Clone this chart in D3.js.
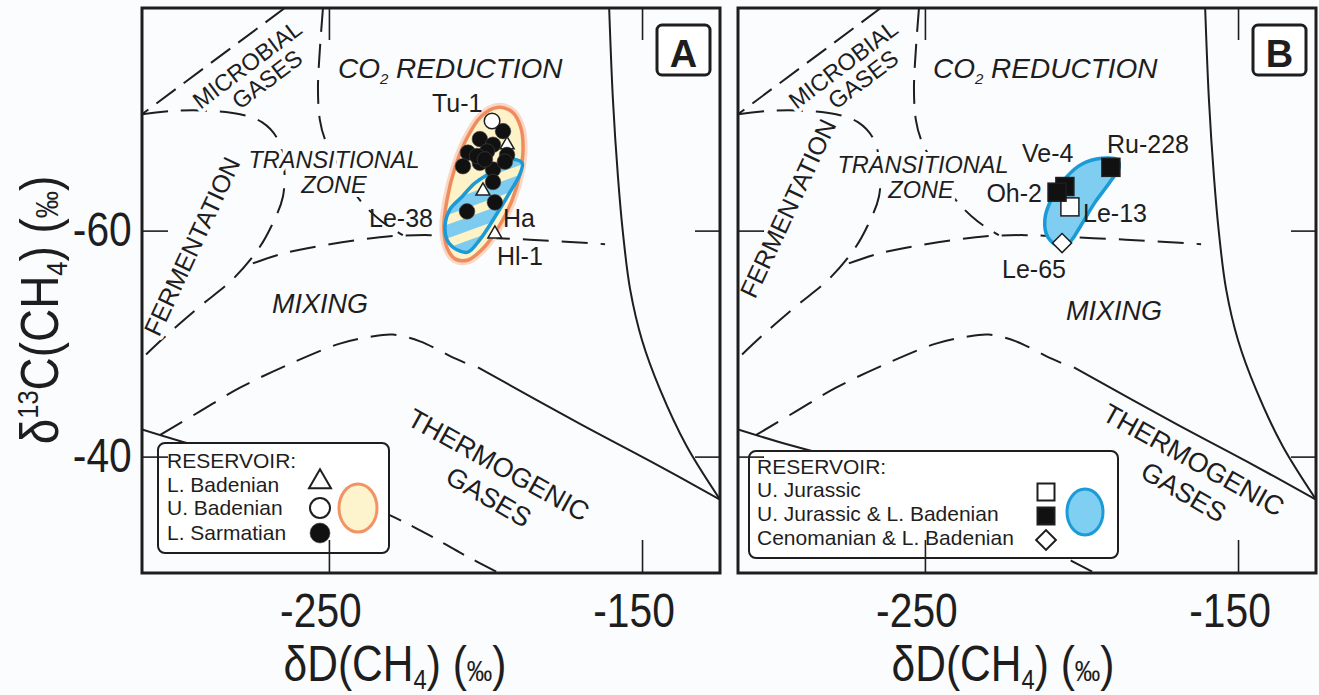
<!DOCTYPE html>
<meta charset="utf-8">
<script src="https://d3js.org/d3.v7.min.js"></script>
<style>
  body { margin: 0; background: #fbfcfe; }
  svg text { font-family: "Liberation Sans", Arial, Helvetica, sans-serif; fill: #1e1e1e; }
</style>
<body>
<div id="viz"></div>
<script>
// ---- axis ticks ----
const xTicks = [-250, -150];
const yTicks = [-60, -40];

// ---- panel A samples [dD, d13C] ----
const lBadenian = [[-193.1, -67.6], [-200.8, -63.5], [-197.0, -59.7]];
const uBadenian = [[-197.9, -69.7]];
const lSarmatian = [
  [-194.4, -68.8], [-201.8, -68.1], [-197.6, -67.6], [-205.6, -66.9], [-199.5, -67.0],
  [-193.1, -66.7], [-207.2, -65.7], [-201.8, -66.0], [-197.6, -65.4], [-193.8, -66.1],
  [-202.7, -66.6], [-200.2, -66.3], [-197.6, -64.3], [-197.0, -62.5], [-205.9, -61.7]
];

// ---- panel B samples ----
const uJurassic = [[-203.7, -62.1]];
const uJurassicLBad = [[-190.6, -65.6], [-205.3, -63.9], [-207.8, -63.4]];
const cenomLBad = [[-206.2, -58.9]];

// ---- sample envelopes ----
const envOrangeA = [
  [-196.3, -70.9], [-191.5, -70.5], [-188.7, -69.1], [-188.0, -67.2], [-189.0, -65.0],
  [-191.5, -62.7], [-195.4, -60.5], [-200.2, -58.6], [-205.6, -57.4], [-209.7, -57.5],
  [-212.3, -58.5], [-213.3, -60.3], [-212.3, -62.7], [-209.7, -65.6], [-205.9, -68.2], [-201.4, -70.1]
];
const envBlueA = [
  [-188.3, -66.0], [-192.2, -66.3], [-198.6, -65.1], [-203.4, -64.2], [-207.5, -63.0],
  [-211.3, -61.9], [-212.9, -60.5], [-212.3, -59.2], [-209.1, -58.3], [-205.6, -58.1],
  [-201.8, -59.2], [-197.0, -61.2], [-192.2, -63.4], [-189.0, -65.0]
];
const envBlueB = [
  [-188.7, -66.3], [-193.5, -66.4], [-199.8, -65.9], [-204.6, -64.8], [-209.4, -62.9],
  [-211.7, -61.0], [-210.7, -59.4], [-206.9, -58.6], [-203.7, -59.0], [-200.5, -60.3],
  [-195.7, -62.5], [-190.9, -64.3], [-188.0, -65.6]
];

// ---- genetic field boundaries ----
const bMicrobial = [[-264.1, -79.7], [-309.7, -70.3]];
const bFermentation = [
  [-309.7, -70.3], [-299.2, -70.6], [-288.0, -70.6], [-278.4, -70.3], [-271.4, -69.6],
  [-266.6, -68.2], [-264.4, -65.9], [-264.7, -63.0], [-268.2, -60.5], [-272.7, -58.3],
  [-280.7, -55.7], [-291.2, -53.3], [-300.8, -51.0], [-309.7, -48.7]
];
const bCO2Left = [
  [-251.9, -79.7], [-252.9, -76.0], [-253.5, -72.5], [-252.9, -69.8], [-251.3, -68.1],
  [-245.8, -65.2], [-240.1, -62.7], [-233.1, -60.8], [-226.4, -59.6]
];
const bCO2Bottom = [
  [-274.3, -57.1], [-265.7, -57.9], [-259.3, -58.3], [-249.7, -58.8], [-240.1, -59.2],
  [-230.5, -59.5], [-217.7, -59.6], [-201.8, -59.4], [-185.8, -59.2], [-173.0, -59.0], [-161.8, -58.8]
];
const bMixing = [
  [-304.0, -41.9], [-291.2, -44.0], [-278.4, -46.1], [-262.5, -48.2], [-246.5, -50.0],
  [-236.9, -50.6], [-229.6, -50.8], [-220.9, -50.2], [-211.3, -48.9], [-206.5, -48.3]
];
const bThermoTop = [[-202.4, -47.9], [-169.8, -42.9], [-147.4, -39.6], [-125.1, -36.2]];
const bThermoLowSolid = [[-309.7, -42.4], [-296.6, -41.3], [-265.7, -39.0]];
const bThermoLowDash = [[-265.7, -39.0], [-228.9, -34.6], [-217.7, -33.0], [-208.1, -31.5], [-195.8, -29.7]];
const bRight = [
  [-160.5, -79.7], [-159.3, -71.6], [-157.7, -64.8], [-156.1, -59.8], [-153.8, -54.8],
  [-150.0, -50.3], [-144.2, -45.9], [-135.9, -41.0], [-125.1, -36.2]
];

// ---- sample names ----
const labelsA = ["Tu-1", "Le-38", "Ha", "Hl-1"];
const labelsB = ["Ru-228", "Ve-4", "Oh-2", "Le-13", "Le-65"];

// ---------------------------------------------------------------
const W = 578, H = 565;
const x = d3.scaleLinear().domain([-309.7, -125.1]).range([0, W]);
const y = d3.scaleLinear().domain([-79.7, -29.7]).range([0, H]);
const ink = "#1e1e1e";
const bg = "#fbfcfe";

const svg = d3.select("#viz").append("svg").attr("width", 1319).attr("height", 695);
svg.append("rect").attr("width", 1319).attr("height", 695).attr("fill", bg);

const defs = svg.append("defs");
const pat = defs.append("pattern").attr("id", "stripes")
  .attr("patternUnits", "userSpaceOnUse").attr("width", 22).attr("height", 22)
  .attr("patternTransform", "rotate(-20)");
pat.append("rect").attr("width", 22).attr("height", 22).attr("fill", "#fdf3c6");
pat.append("rect").attr("width", 22).attr("height", 13).attr("fill", "#7dcbee");
defs.append("clipPath").attr("id", "frame").append("rect").attr("width", W).attr("height", H);

const line = d3.line().x(d => x(d[0])).y(d => y(d[1])).curve(d3.curveCatmullRom.alpha(0.5));
const closed = d3.line().x(d => x(d[0])).y(d => y(d[1])).curve(d3.curveCatmullRomClosed.alpha(0.5));

function symbol(g, kind, cx, cy, big) {
  const sw = big ? 2 : 1.5;
  if (kind === "tri") {
    const s = big ? 22 : 14, h = s / Math.sqrt(3);
    g.append("path").attr("d", `M${cx},${cy - h}L${cx + s / 2},${cy + h / 2}L${cx - s / 2},${cy + h / 2}Z`)
      .attr("fill", "#fff").attr("stroke", ink).attr("stroke-width", sw);
  } else if (kind === "circOpen" || kind === "circFill") {
    g.append("circle").attr("cx", cx).attr("cy", cy).attr("r", big ? 10 : 7.8)
      .attr("fill", kind === "circFill" ? "#111" : "#fff")
      .attr("stroke", kind === "circFill" ? "#444" : ink).attr("stroke-width", kind === "circFill" ? 0.6 : sw);
  } else if (kind === "sqOpen" || kind === "sqFill") {
    const s = big ? 17 : 18;
    g.append("rect").attr("x", cx - s / 2).attr("y", cy - s / 2).attr("width", s).attr("height", s)
      .attr("fill", kind === "sqFill" ? "#111" : "#fff").attr("stroke", ink).attr("stroke-width", sw);
  } else if (kind === "dia") {
    const s = big ? 14 : 13.5;
    g.append("rect").attr("x", -s / 2).attr("y", -s / 2).attr("width", s).attr("height", s)
      .attr("transform", `translate(${cx},${cy}) rotate(45)`)
      .attr("fill", "#fff").attr("stroke", ink).attr("stroke-width", sw);
  }
}

function halo(sel, w) {
  return sel.attr("stroke", bg).attr("stroke-width", w).attr("stroke-linejoin", "round").attr("paint-order", "stroke");
}

function drawPanel(ox, cfg) {
  const g = svg.append("g").attr("transform", `translate(${ox},8)`);
  const c = g.append("g").attr("clip-path", "url(#frame)");

  // field boundaries
  const dashed = "26,13";
  [
    [bMicrobial, "24,10"], [bFermentation, dashed], [bCO2Left, "24,12"], [bCO2Bottom, dashed],
    [bMixing, dashed], [bThermoTop, null], [bThermoLowSolid, null], [bThermoLowDash, "24,12"], [bRight, null]
  ].forEach(([pts, da]) => {
    c.append("path").attr("d", line(pts)).attr("fill", "none").attr("stroke", ink)
      .attr("stroke-width", 2).attr("stroke-dasharray", da);
  });

  // field names
  cfg.fields.forEach(f => {
    const t = g.append("text").attr("transform", `translate(${f.x},${f.y}) rotate(${f.rot || 0})`)
      .attr("text-anchor", f.anchor || "middle").attr("font-size", f.size || 24)
      .attr("font-style", f.italic ? "italic" : null);
    halo(t, 8);
    if (f.sub) {
      t.append("tspan").text(f.t[0]);
      t.append("tspan").text(f.t[1]).attr("font-size", 15).attr("dy", 6);
      t.append("tspan").text(f.t[2]).attr("dy", -6);
    } else t.text(f.t);
  });

  // envelopes
  cfg.envelopes.forEach(e => {
    if (e.glow) c.append("path").attr("d", closed(e.pts)).attr("fill", "none")
      .attr("stroke", e.glow).attr("stroke-width", 9);
    c.append("path").attr("d", closed(e.pts)).attr("fill", e.fill)
      .attr("stroke", e.stroke).attr("stroke-width", 3.5);
  });

  // samples
  cfg.series.forEach(s => s.pts.forEach(p => symbol(g, s.kind, x(p[0]), y(p[1]), false)));

  // sample names
  cfg.names.forEach(n => {
    g.append("text").attr("x", n.x).attr("y", n.y).attr("text-anchor", n.anchor || "start")
      .attr("font-size", 25).text(n.t);
  });

  // legend
  const L = cfg.legend;
  g.append("rect").attr("x", L.x).attr("y", L.y).attr("width", L.w).attr("height", L.h).attr("rx", 7)
    .attr("fill", "#fff").attr("stroke", ink).attr("stroke-width", 2);
  g.append("text").attr("x", L.tx).attr("y", L.rows[0]).attr("font-size", 21).text("RESERVOIR:");
  cfg.series.forEach((s, i) => {
    g.append("text").attr("x", L.tx).attr("y", L.rows[i + 1]).attr("font-size", 21).text(s.name);
    symbol(g, s.kind, L.mx, L.my[i], true);
  });
  g.append("ellipse").attr("cx", L.ex).attr("cy", L.ey).attr("rx", L.erx).attr("ry", L.ery)
    .attr("fill", L.efill).attr("stroke", L.estroke).attr("stroke-width", 3);

  // ticks
  const style = a => {
    a.select(".domain").remove();
    a.selectAll("line").attr("stroke", ink).attr("stroke-width", 1.6);
    a.attr("font-family", "Liberation Sans, Arial, sans-serif").attr("font-size", 48);
    a.selectAll("text").attr("fill", ink).attr("transform", "scale(0.85,1)");
  };
  g.append("g").attr("transform", `translate(0,${H})`)
    .call(d3.axisBottom(x).tickValues(xTicks).tickSizeInner(-33).tickSizeOuter(0).tickPadding(20).tickFormat(d => String(d)))
    .call(style).selectAll("text").attr("dx", -10);
  g.append("g").call(d3.axisTop(x).tickValues(xTicks).tickSizeInner(-32).tickSizeOuter(0).tickFormat("")).call(style);
  g.append("g")
    .call(d3.axisLeft(y).tickValues(yTicks).tickSizeInner(-26).tickSizeOuter(0).tickPadding(12)
      .tickFormat(cfg.yLabels ? d => String(d) : ""))
    .call(style);
  g.append("g").attr("transform", `translate(${W},0)`)
    .call(d3.axisRight(y).tickValues(yTicks).tickSizeInner(-25).tickSizeOuter(0).tickFormat("")).call(style);

  // frame
  g.append("rect").attr("width", W).attr("height", H).attr("fill", "none").attr("stroke", ink).attr("stroke-width", 3);

  // panel letter
  g.append("rect").attr("x", 515).attr("y", 17).attr("width", 53).attr("height", 50).attr("rx", 5)
    .attr("fill", "#fff").attr("stroke", ink).attr("stroke-width", 3);
  g.append("text").attr("x", 541.5).attr("y", 59).attr("text-anchor", "middle")
    .attr("font-size", 38).attr("font-weight", "bold").text(cfg.letter);

  // x title
  const xt = svg.append("text").attr("transform", `translate(${cfg.titleX},681) scale(0.85,1)`)
    .attr("text-anchor", "middle").attr("font-size", 50);
  xt.append("tspan").text("δD(CH");
  xt.append("tspan").text("4").attr("font-size", 28).attr("dy", 8);
  xt.append("tspan").text(") (").attr("dy", -8);
  xt.append("tspan").text("‰").attr("font-size", 30);
  xt.append("tspan").text(")");
}

drawPanel(142, {
  letter: "A", yLabels: true, titleX: 395,
  fields: [
    { t: ["CO", "2", " REDUCTION"], sub: true, x: 196, y: 70, anchor: "start", italic: true, size: 28 },
    { t: "TRANSITIONAL", x: 192, y: 160, italic: true, size: 23.5 },
    { t: "ZONE", x: 192, y: 185, italic: true, size: 23.5 },
    { t: "MICROBIAL", x: 110, y: 63, rot: -37, size: 23.5 },
    { t: "GASES", x: 130, y: 78, rot: -37, size: 23.5 },
    { t: "FERMENTATION", x: 58, y: 242, rot: -65, size: 25 },
    { t: "MIXING", x: 178, y: 305, italic: true, size: 27 },
    { t: "THERMOGENIC", x: 352, y: 465, rot: 29, size: 27 },
    { t: "GASES", x: 342, y: 497, rot: 30, size: 27 }
  ],
  envelopes: [
    { pts: envOrangeA, fill: "#fdf2c8", stroke: "#ef8c5f", glow: "#fad7c4" },
    { pts: envBlueA, fill: "url(#stripes)", stroke: "#1a9ad7" }
  ],
  series: [
    { name: "L. Badenian", kind: "tri", pts: lBadenian },
    { name: "U. Badenian", kind: "circOpen", pts: uBadenian },
    { name: "L. Sarmatian", kind: "circFill", pts: lSarmatian }
  ],
  names: [
    { t: labelsA[0], x: 290, y: 104 },
    { t: labelsA[1], x: 291, y: 219, anchor: "end" },
    { t: labelsA[2], x: 361, y: 219 },
    { t: labelsA[3], x: 355, y: 257 }
  ],
  legend: {
    x: 16, y: 435, w: 231, h: 110, tx: 25, rows: [460, 484, 507, 532],
    mx: 178, my: [474, 500, 525], ex: 216, ey: 500, erx: 19, ery: 24,
    efill: "#fdf3cc", estroke: "#f39363"
  }
});

drawPanel(738, {
  letter: "B", yLabels: false, titleX: 1003,
  fields: [
    { t: ["CO", "2", " REDUCTION"], sub: true, x: 195, y: 70, anchor: "start", italic: true, size: 28 },
    { t: "TRANSITIONAL", x: 185, y: 165, italic: true, size: 23.5 },
    { t: "ZONE", x: 183, y: 190, italic: true, size: 23.5 },
    { t: "MICROBIAL", x: 110, y: 63, rot: -37, size: 23.5 },
    { t: "GASES", x: 130, y: 78, rot: -37, size: 23.5 },
    { t: "FERMENTATION", x: 58, y: 204, rot: -65, size: 25 },
    { t: "MIXING", x: 376, y: 312, italic: true, size: 27 },
    { t: "THERMOGENIC", x: 451, y: 460, rot: 29, size: 27 },
    { t: "GASES", x: 441, y: 492, rot: 30, size: 27 }
  ],
  envelopes: [
    { pts: envBlueB, fill: "#7fcdf0", stroke: "#1a9ad7" }
  ],
  series: [
    { name: "U. Jurassic", kind: "sqOpen", pts: uJurassic },
    { name: "U. Jurassic & L. Badenian", kind: "sqFill", pts: uJurassicLBad },
    { name: "Cenomanian & L. Badenian", kind: "dia", pts: cenomLBad }
  ],
  names: [
    { t: labelsB[0], x: 369, y: 145 },
    { t: labelsB[1], x: 284, y: 154 },
    { t: labelsB[2], x: 304, y: 194, anchor: "end" },
    { t: labelsB[3], x: 345, y: 214 },
    { t: labelsB[4], x: 264, y: 270 }
  ],
  legend: {
    x: 11, y: 443, w: 369, h: 107, tx: 19, rows: [466, 489, 513, 537],
    mx: 308, my: [484, 508, 532], ex: 347, ey: 504, erx: 18, ery: 23,
    efill: "#7fcff2", estroke: "#1b9bd8"
  }
});

// y title (panel A only)
const yt = svg.append("text").attr("transform", "translate(58,310) rotate(-90) scale(0.85,1)")
  .attr("text-anchor", "middle").attr("font-size", 54);
yt.append("tspan").text("δ");
yt.append("tspan").text("13").attr("font-size", 30).attr("dy", -20);
yt.append("tspan").text("C(CH").attr("dy", 20);
yt.append("tspan").text("4").attr("font-size", 30).attr("dy", 9);
yt.append("tspan").text(") (").attr("dy", -9);
yt.append("tspan").text("‰").attr("font-size", 32);
yt.append("tspan").text(")");
</script>
</body>
